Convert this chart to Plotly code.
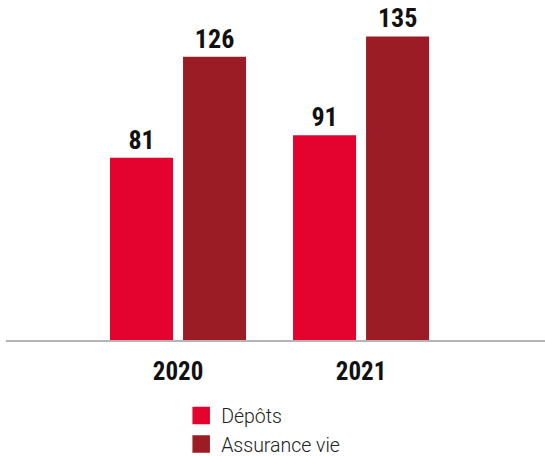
import plotly.graph_objects as go

years = ["2020", "2021"]
depots = [81, 91]
assurance_vie = [126, 135]
series_names = ["Dépôts", "Assurance vie"]
colors = ["#E4032E", "#9C1C25"]

fig = go.Figure()
for name, vals, col in zip(series_names, [depots, assurance_vie], colors):
    fig.add_trace(go.Bar(
        x=years, y=vals, name=name, marker=dict(color=col, line=dict(width=0)),
        text=[str(v) for v in vals], textposition="outside",
        textfont=dict(family="Liberation Sans Narrow, Arial Narrow, Roboto Condensed, sans-serif",
                      size=26, color="#111111", weight="bold"),
        cliponaxis=False, showlegend=False,
    ))
# legend entries (square swatches)
for name, col in zip(series_names, colors):
    fig.add_trace(go.Scatter(
        x=[None], y=[None], mode="markers", name=name,
        marker=dict(symbol="square", size=16, color=col, line=dict(color=col, width=1.5)),
    ))

fig.update_layout(
    width=545, height=456,
    margin=dict(l=6, r=0, t=0, b=116, autoexpand=False),
    plot_bgcolor="white", paper_bgcolor="white",
    barmode="group", bargap=0.202, bargroupgap=0.137,
    showlegend=True,
    legend=dict(
        x=0.325, xanchor="left", y=-0.166, yanchor="top",
        orientation="v",
        font=dict(family="Roboto, Helvetica, Arial, sans-serif", size=19.5, color="#222222", weight=300),
        bgcolor="rgba(0,0,0,0)",
    ),
    xaxis=dict(
        type="category", range=[-0.94, 2.005],
        showgrid=False, zeroline=False,
        showline=True, linecolor="#b4b4b4", linewidth=2,
        ticks="", ticklabelstandoff=8,
        tickfont=dict(family="Liberation Sans Narrow, Arial Narrow, Roboto Condensed, sans-serif",
                      size=25, color="#111111", weight="bold"),
    ),
    yaxis=dict(range=[0, 151.2], visible=False, showgrid=False, zeroline=False),
)

fig.write_html("out.html", config={"displayModeBar": False},
               post_script="document.body.style.margin='0';document.body.style.overflow='hidden';")
